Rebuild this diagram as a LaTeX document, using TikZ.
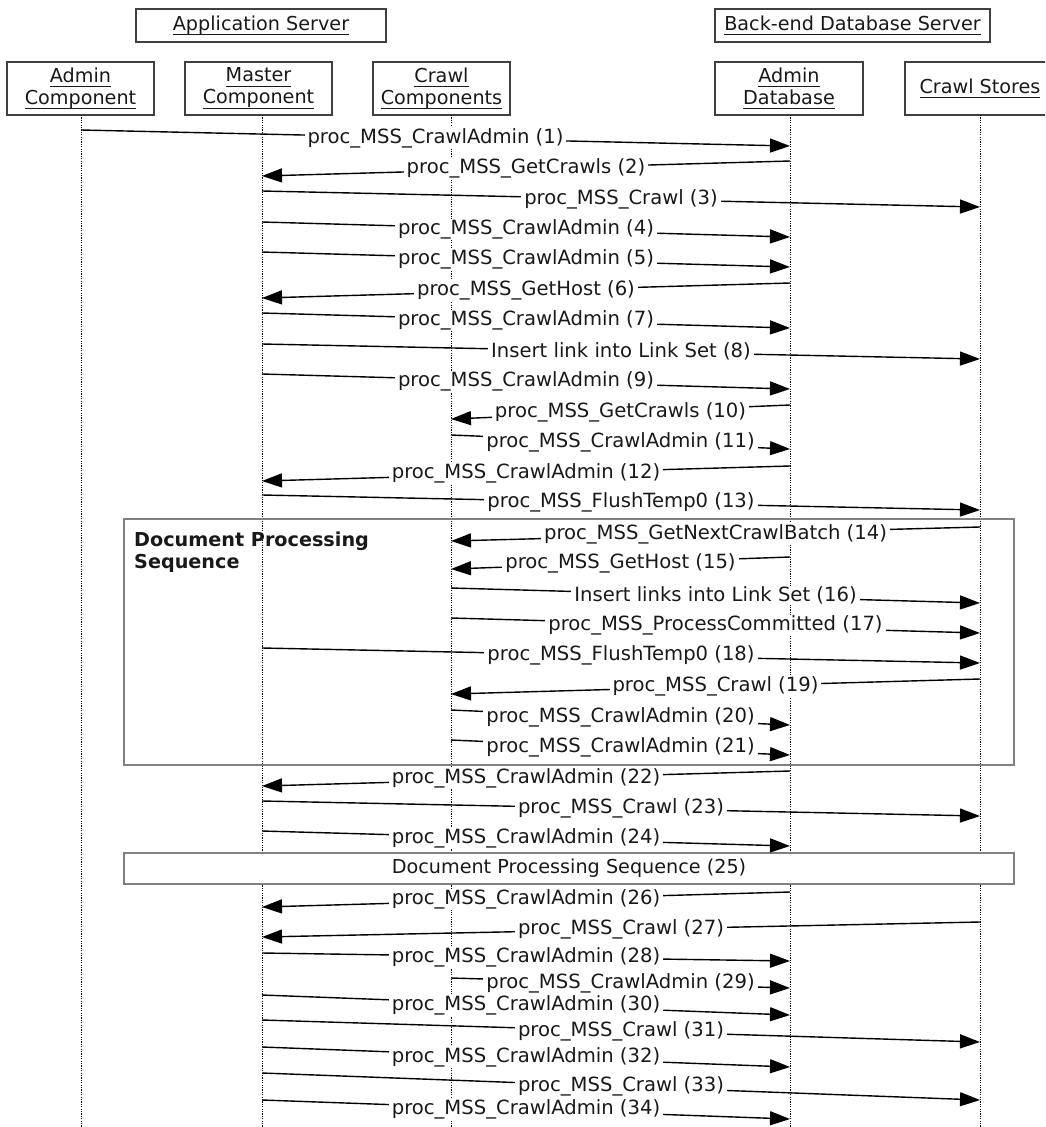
\documentclass[tikz,border=0pt]{standalone}
\usepackage{fontspec}
\setmainfont{DejaVu Sans}
\usetikzlibrary{arrows.meta}
\newcommand\uln[1]{\setbox0\hbox{#1}\rlap{\rule[-5pt]{\wd0}{1.1pt}}\box0}
\newcommand\msgline[6]{%
  \coordinate (#1s) at (#2 |- 0,#3);
  \coordinate (#1e) at (#4 |- 0,#5);
  \draw[msg] (#1s) -- node[lbl] {#6} (#1e);}
\begin{document}
\begin{tikzpicture}[x=1pt,y=-1pt,
  every node/.style={font=\fontsize{19.2}{22}\selectfont, text=black!90},
  hdr/.style={draw=black!75, line width=1.3pt, inner sep=0pt, align=center, fill=white},
  life/.style={line width=1pt, dash pattern=on 1.2pt off 1.2pt},
  msg/.style={line width=1.4pt, -{Triangle[length=20pt,width=14pt]}},
  lbl/.style={fill=white, inner xsep=3pt, inner ysep=1pt, font=\fontsize{19.6}{22}\selectfont},
  frm/.style={draw=black!50, line width=2pt, inner sep=0pt}]
\clip (0,0) rectangle (1045,1127);
\fill[white] (0,0) rectangle (1045,1127);
% server headers
\node[hdr, minimum width=250pt, minimum height=33pt] (appsrv) at (261,25.5) {\uln{Application Server}};
\node[hdr, minimum width=275pt, minimum height=33pt] (dbsrv) at (852.5,25.5) {\uln{Back-end Database Server}};
% participant headers
\node[hdr, minimum width=147pt, minimum height=53pt] (hA) at (80.5,88.5) {\uln{Admin}\\\uln{Component}};
\node[hdr, minimum width=147pt, minimum height=53pt] (hM) at (258.5,88.5) {\uln{Master}\\\uln{Component}};
\node[hdr, minimum width=137pt, minimum height=53pt] (hC) at (441.5,88.5) {\uln{Crawl}\\\uln{Components}};
\node[hdr, minimum width=148pt, minimum height=53pt] (hD) at (789,88.5) {\uln{Admin}\\\uln{Database}};
\node[hdr, minimum width=150pt, minimum height=53pt] (hS) at (980,88.5) {\uln{Crawl Stores}};
% lifelines
\coordinate (LA) at (81,115);
\coordinate (LM) at (262,115);
\coordinate (LC) at (451,115);
\coordinate (LD) at (790,115);
\coordinate (LS) at (980,115);
\foreach \l in {LA,LM,LC,LD,LS} \draw[life] (\l) -- (\l |- 0,1127);
% combined fragment frame
\node[frm, minimum width=890pt, minimum height=246pt] (dps) at (569,642) {};
\node[anchor=north west, align=left, inner sep=0pt, font=\fontsize{19.2}{21.5}\selectfont\bfseries] (dpsl) at (134,532) {Document Processing\\Sequence};
\node[frm, line width=1.6pt, fill=white, minimum width=890pt, minimum height=31pt] (dps25) at (569,868.5) {Document Processing Sequence (25)};
% messages
\msgline{m1}{LA}{130}{LD}{146}{proc\_MSS\_CrawlAdmin (1)}
\msgline{m2}{LD}{161}{LM}{176}{proc\_MSS\_GetCrawls (2)}
\msgline{m3}{LM}{191}{LS}{207}{proc\_MSS\_Crawl (3)}
\msgline{m4}{LM}{222}{LD}{237}{proc\_MSS\_CrawlAdmin (4)}
\msgline{m5}{LM}{252}{LD}{267}{proc\_MSS\_CrawlAdmin (5)}
\msgline{m6}{LD}{283}{LM}{298}{proc\_MSS\_GetHost (6)}
\msgline{m7}{LM}{313}{LD}{328}{proc\_MSS\_CrawlAdmin (7)}
\msgline{m8}{LM}{344}{LS}{359}{Insert link into Link Set (8)}
\msgline{m9}{LM}{374}{LD}{389}{proc\_MSS\_CrawlAdmin (9)}
\msgline{m10}{LD}{405}{LC}{419}{proc\_MSS\_GetCrawls (10)}
\msgline{m11}{LC}{435}{LD}{449}{proc\_MSS\_CrawlAdmin (11)}
\msgline{m12}{LD}{466}{LM}{481}{proc\_MSS\_CrawlAdmin (12)}
\msgline{m13}{LM}{495}{LS}{510}{proc\_MSS\_FlushTemp0 (13)}
\msgline{m14}{LS}{527}{LC}{541}{proc\_MSS\_GetNextCrawlBatch (14)}
\msgline{m15}{LD}{557}{LC}{569}{proc\_MSS\_GetHost (15)}
\msgline{m16}{LC}{588}{LS}{603}{Insert links into Link Set (16)}
\msgline{m17}{LC}{618}{LS}{633}{proc\_MSS\_ProcessCommitted (17)}
\msgline{m18}{LM}{648}{LS}{663}{proc\_MSS\_FlushTemp0 (18)}
\msgline{m19}{LS}{679}{LC}{694}{proc\_MSS\_Crawl (19)}
\msgline{m20}{LC}{710}{LD}{725}{proc\_MSS\_CrawlAdmin (20)}
\msgline{m21}{LC}{740}{LD}{755}{proc\_MSS\_CrawlAdmin (21)}
\msgline{m22}{LD}{771}{LM}{786}{proc\_MSS\_CrawlAdmin (22)}
\msgline{m23}{LM}{801}{LS}{816}{proc\_MSS\_Crawl (23)}
\msgline{m24}{LM}{831}{LD}{846}{proc\_MSS\_CrawlAdmin (24)}
\msgline{m26}{LD}{892}{LM}{907}{proc\_MSS\_CrawlAdmin (26)}
\msgline{m27}{LS}{922}{LM}{937}{proc\_MSS\_Crawl (27)}
\msgline{m28}{LM}{953}{LD}{961}{proc\_MSS\_CrawlAdmin (28)}
\msgline{m29}{LC}{978}{LD}{988}{proc\_MSS\_CrawlAdmin (29)}
\msgline{m30}{LM}{995}{LD}{1015}{proc\_MSS\_CrawlAdmin (30)}
\msgline{m31}{LM}{1020}{LS}{1042}{proc\_MSS\_Crawl (31)}
\msgline{m32}{LM}{1047}{LD}{1067}{proc\_MSS\_CrawlAdmin (32)}
\msgline{m33}{LM}{1073}{LS}{1100}{proc\_MSS\_Crawl (33)}
\msgline{m34}{LM}{1100}{LD}{1119}{proc\_MSS\_CrawlAdmin (34)}
\end{tikzpicture}
\end{document}
